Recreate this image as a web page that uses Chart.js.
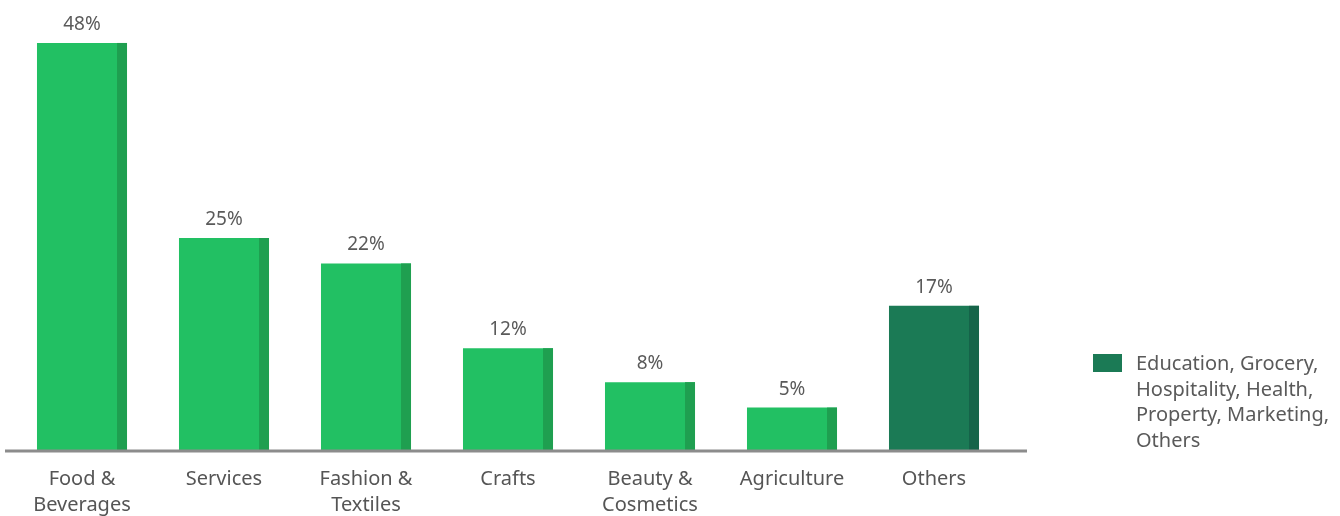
<!DOCTYPE html>
<html>
<head>
<meta charset="utf-8">
<script src="https://cdn.jsdelivr.net/npm/chart.js@4.4.1/dist/chart.umd.min.js"></script>
<style>
  html, body { margin: 0; padding: 0; background: #fff; }
</style>
</head>
<body>
<canvas id="sectors" width="1340" height="516"></canvas>
<script>
const categories = [['Food &', 'Beverages'], 'Services', ['Fashion &', 'Textiles'], 'Crafts', ['Beauty &', 'Cosmetics'], 'Agriculture', 'Others'];
const shares = [48, 25, 22, 12, 8, 5, 17];
const othersNote = ['Education, Grocery,', 'Hospitality, Health,', 'Property, Marketing,', 'Others'];

const green = '#22c063', greenSide = '#1f9f50';
const teal = '#1b7a55', tealSide = '#166449';
const font = '"Noto Sans", sans-serif';
const isOthers = i => i === categories.length - 1;

// darker right-hand edge on each bar, value above it, and the baseline rule
const barExtras = {
  id: 'barExtras',
  afterDatasetsDraw(chart) {
    const { ctx, chartArea } = chart;
    ctx.save();
    chart.getDatasetMeta(0).data.forEach((bar, i) => {
      const { x, y, base, width } = bar.getProps(['x', 'y', 'base', 'width'], true);
      const side = Math.round(width * 0.11);
      ctx.fillStyle = isOthers(i) ? tealSide : greenSide;
      ctx.fillRect(x + width / 2 - side, y, side, base - y);
      ctx.fillStyle = '#5a5a5a';
      ctx.font = '19px ' + font;
      ctx.textAlign = 'center';
      ctx.textBaseline = 'alphabetic';
      ctx.fillText(shares[i] + '%', x, y - 13);
    });
    ctx.strokeStyle = '#8c8c8c';
    ctx.lineWidth = 3;
    ctx.beginPath();
    ctx.moveTo(chartArea.left - 6, chartArea.bottom + 1);
    ctx.lineTo(chartArea.right + 22, chartArea.bottom + 1);
    ctx.stroke();
    ctx.restore();
  }
};

// key for the "Others" bar, set off to the right of the plot
const othersKey = {
  id: 'othersKey',
  afterDraw(chart) {
    const { ctx, chartArea } = chart;
    const left = chartArea.right + 88;
    const top = chartArea.bottom - 96;
    ctx.save();
    ctx.fillStyle = teal;
    ctx.fillRect(left, top, 29, 18);
    ctx.fillStyle = '#5a5a5a';
    ctx.font = '20px ' + font;
    ctx.textAlign = 'left';
    ctx.textBaseline = 'alphabetic';
    othersNote.forEach((line, k) => ctx.fillText(line, left + 43, top + 16 + k * 25.5));
    ctx.restore();
  }
};

new Chart(document.getElementById('sectors'), {
  type: 'bar',
  data: {
    labels: categories,
    datasets: [{
      data: shares,
      backgroundColor: shares.map((v, i) => isOthers(i) ? teal : green),
      borderSkipped: false,
      borderWidth: 0,
      barPercentage: 0.634,
      categoryPercentage: 1
    }]
  },
  options: {
    responsive: false,
    animation: false,
    layout: { padding: { left: 11, right: 335, top: 26, bottom: 0 } },
    plugins: {
      legend: { display: false },
      tooltip: { enabled: false }
    },
    scales: {
      x: {
        grid: { display: false, drawTicks: false },
        border: { display: false },
        afterFit(scale) { scale.height = 66; },
        ticks: {
          color: '#555',
          font: { family: font, size: 20, lineHeight: 1.3 },
          padding: 16,
          maxRotation: 0,
          autoSkip: false
        }
      },
      y: {
        display: false,
        min: 0,
        max: 50
      }
    }
  },
  plugins: [barExtras, othersKey]
});
</script>
</body>
</html>
